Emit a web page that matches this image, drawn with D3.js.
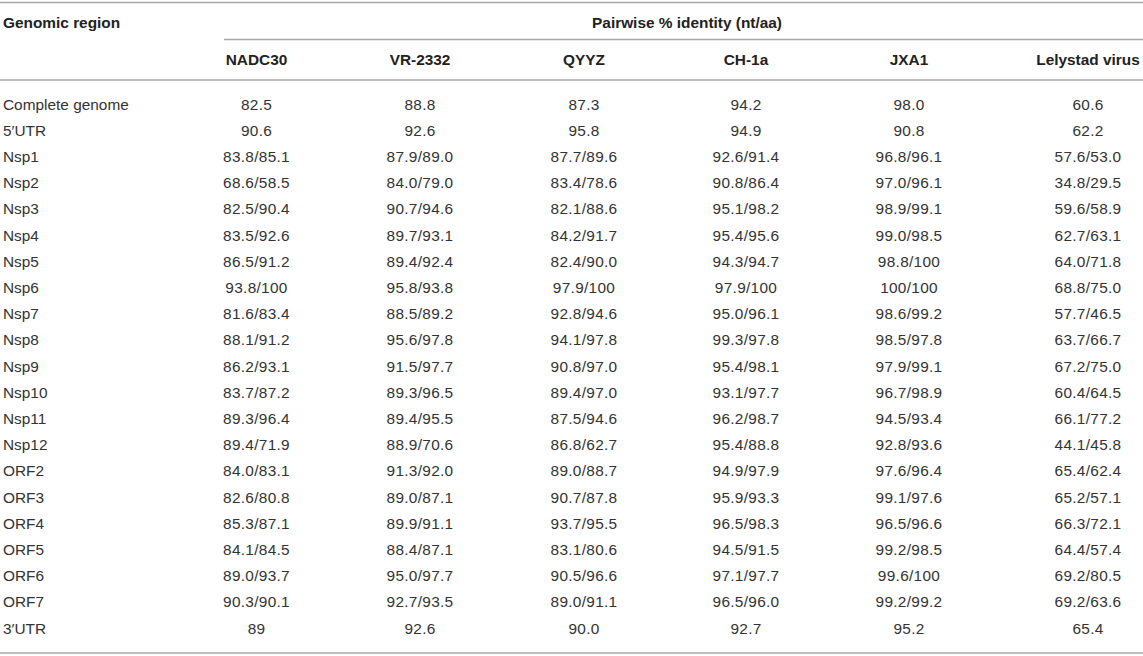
<!DOCTYPE html>
<html>
<head>
<meta charset="utf-8">
<script src="https://cdn.jsdelivr.net/npm/d3@7"></script>
<style>
  html, body { margin: 0; padding: 0; background: #fff; }
  svg { display: block; }
  text { font-family: "Liberation Sans", Arial, Helvetica, sans-serif; font-size: 15.4px; fill: #333; }
  .cell { letter-spacing: 0.3px; }
  .hdr { font-weight: bold; fill: #222; }
</style>
</head>
<body>
<div id="chart"></div>
<script>
const regions = ["Complete genome", "5\u2032UTR", "Nsp1", "Nsp2", "Nsp3", "Nsp4", "Nsp5", "Nsp6", "Nsp7", "Nsp8", "Nsp9", "Nsp10", "Nsp11", "Nsp12", "ORF2", "ORF3", "ORF4", "ORF5", "ORF6", "ORF7", "3\u2032UTR"];
const strains = ["NADC30", "VR-2332", "QYYZ", "CH-1a", "JXA1", "Lelystad virus"];
const NADC30 = ["82.5", "90.6", "83.8/85.1", "68.6/58.5", "82.5/90.4", "83.5/92.6", "86.5/91.2", "93.8/100", "81.6/83.4", "88.1/91.2", "86.2/93.1", "83.7/87.2", "89.3/96.4", "89.4/71.9", "84.0/83.1", "82.6/80.8", "85.3/87.1", "84.1/84.5", "89.0/93.7", "90.3/90.1", "89"];
const VR2332 = ["88.8", "92.6", "87.9/89.0", "84.0/79.0", "90.7/94.6", "89.7/93.1", "89.4/92.4", "95.8/93.8", "88.5/89.2", "95.6/97.8", "91.5/97.7", "89.3/96.5", "89.4/95.5", "88.9/70.6", "91.3/92.0", "89.0/87.1", "89.9/91.1", "88.4/87.1", "95.0/97.7", "92.7/93.5", "92.6"];
const QYYZ = ["87.3", "95.8", "87.7/89.6", "83.4/78.6", "82.1/88.6", "84.2/91.7", "82.4/90.0", "97.9/100", "92.8/94.6", "94.1/97.8", "90.8/97.0", "89.4/97.0", "87.5/94.6", "86.8/62.7", "89.0/88.7", "90.7/87.8", "93.7/95.5", "83.1/80.6", "90.5/96.6", "89.0/91.1", "90.0"];
const CH1a = ["94.2", "94.9", "92.6/91.4", "90.8/86.4", "95.1/98.2", "95.4/95.6", "94.3/94.7", "97.9/100", "95.0/96.1", "99.3/97.8", "95.4/98.1", "93.1/97.7", "96.2/98.7", "95.4/88.8", "94.9/97.9", "95.9/93.3", "96.5/98.3", "94.5/91.5", "97.1/97.7", "96.5/96.0", "92.7"];
const JXA1 = ["98.0", "90.8", "96.8/96.1", "97.0/96.1", "98.9/99.1", "99.0/98.5", "98.8/100", "100/100", "98.6/99.2", "98.5/97.8", "97.9/99.1", "96.7/98.9", "94.5/93.4", "92.8/93.6", "97.6/96.4", "99.1/97.6", "96.5/96.6", "99.2/98.5", "99.6/100", "99.2/99.2", "95.2"];
const Lelystad = ["60.6", "62.2", "57.6/53.0", "34.8/29.5", "59.6/58.9", "62.7/63.1", "64.0/71.8", "68.8/75.0", "57.7/46.5", "63.7/66.7", "67.2/75.0", "60.4/64.5", "66.1/77.2", "44.1/45.8", "65.4/62.4", "65.2/57.1", "66.3/72.1", "64.4/57.4", "69.2/80.5", "69.2/63.6", "65.4"];
const seriesValues = [NADC30, VR2332, QYYZ, CH1a, JXA1, Lelystad];
const headerLeft = "Genomic region";
const headerGroup = "Pairwise % identity (nt/aa)";

const W = 1143, H = 656;
const svg = d3.select("#chart").append("svg").attr("width", W).attr("height", H);

const x = d3.scaleOrdinal().domain(strains).range([256.5, 420, 584, 746, 909, 1088]);
const y = d3.scalePoint().domain(regions).range([109.5, 633.5]);

const lineColor = "#a9a9a9";
function hline(x1, x2, yy) {
  svg.append("line").attr("x1", x1).attr("x2", x2).attr("y1", yy).attr("y2", yy)
    .attr("stroke", lineColor).attr("stroke-width", 1.6);
}
hline(0, W, 2.5);
hline(224, W, 39.5);
hline(0, W, 80);
hline(0, W, 653);

svg.append("text").attr("class", "hdr").attr("x", 3).attr("y", 28).text(headerLeft);
svg.append("text").attr("class", "hdr").attr("x", 687).attr("y", 28).attr("text-anchor", "middle").text(headerGroup);

svg.selectAll("text.col").data(strains).join("text")
  .attr("class", "col hdr").attr("x", d => x(d)).attr("y", 65).attr("text-anchor", "middle").text(d => d);

svg.selectAll("text.row").data(regions).join("text")
  .attr("class", "row").attr("x", 3).attr("y", d => y(d)).text(d => d);

const cells = [];
strains.forEach((s, i) => regions.forEach((r, j) => cells.push({ s, r, v: seriesValues[i][j] })));
svg.selectAll("text.cell").data(cells).join("text")
  .attr("class", "cell").attr("x", d => x(d.s)).attr("y", d => y(d.r)).attr("text-anchor", "middle").text(d => d.v);
</script>
</body>
</html>
